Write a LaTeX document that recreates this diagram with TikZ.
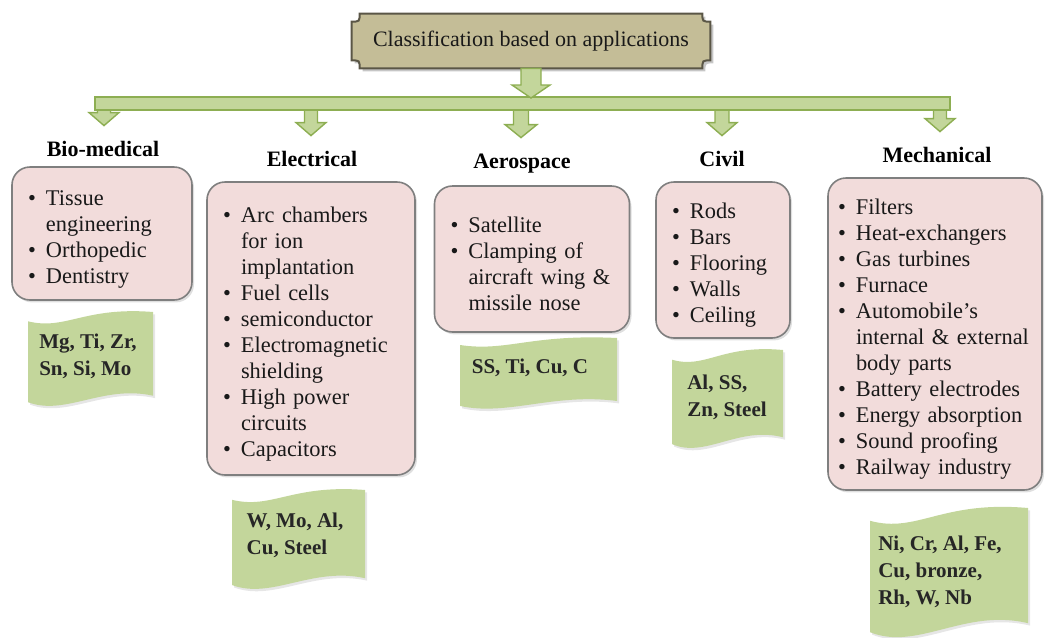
\documentclass[tikz,border=0pt]{standalone}
\usepackage{fontspec}
\setmainfont{Liberation Serif}
\usetikzlibrary{calc,shadows,backgrounds}
\setlength{\parskip}{0pt}

\definecolor{tagGreen}{HTML}{C3D69B}
\definecolor{barEdge}{HTML}{8DAE52}
\definecolor{boxPink}{HTML}{F2DCDB}
\definecolor{boxEdge}{HTML}{7F7F7F}
\definecolor{titleTan}{HTML}{C4BD97}
\definecolor{titleEdge}{HTML}{5A5646}

\newcommand{\bitem}[1]{\par\hangindent=9pt\hangafter=1\noindent\makebox[9pt][l]{\textbullet}#1}

\newcommand{\wavetag}[4]{%
  \path[tagshape] (#1,{#2+0.1*(#4-#2)}) .. controls ({#1+0.3*(#3-#1)},{#2+0.2*(#4-#2)}) and ({#1+0.45*(#3-#1)},{#2-0.06*(#4-#2)}) .. (#3,#2)
    -- (#3,{#2+0.9*(#4-#2)}) .. controls ({#1+0.6*(#3-#1)},{#2+0.78*(#4-#2)}) and ({#1+0.3*(#3-#1)},{#2+1.12*(#4-#2)}) .. (#1,{#2+0.97*(#4-#2)}) -- cycle;}

\newcommand{\fatarrow}[4]{%
  \coordinate (fa-a) at (#1);
  \coordinate (fa-b) at (#2);
  \filldraw[fat] ($(fa-a)+(-#3,0)$) -- ($(fa-a |- fa-b)+(-#3,-13)$) -- ($(fa-a |- fa-b)+(-#4,-13)$) -- (fa-a |- fa-b)
    -- ($(fa-a |- fa-b)+(#4,-13)$) -- ($(fa-a |- fa-b)+(#3,-13)$) -- ($(fa-a)+(#3,0)$) -- cycle;}

\begin{document}
\begin{tikzpicture}[x=0.5pt, y=-0.5pt,
        title/.style={minimum width=179pt, minimum height=27pt, font=\fontsize{11}{13}\selectfont, text=black!90},
        plaque/.style={fill=titleTan, draw=titleEdge, line width=1pt, drop shadow={opacity=0.45, shadow xshift=1.5pt, shadow yshift=-1.5pt}},
        head/.style={font=\fontsize{11}{13}\selectfont\bfseries, inner sep=2pt, text height=8pt, text depth=2pt},
        appbox/.style={rectangle, rounded corners=9pt, draw=boxEdge, line width=0.8pt, fill=boxPink, inner xsep=8pt, align=left,
            font=\fontsize{11.2}{13}\selectfont, text=black!90, drop shadow={opacity=0.25, shadow xshift=1pt, shadow yshift=-1.2pt}},
        tagshape/.style={fill=tagGreen, drop shadow={opacity=0.2, shadow xshift=1pt, shadow yshift=-1.2pt}},
        tagtext/.style={font=\fontsize{10.5}{13.5}\selectfont\bfseries, align=left, text=black!85, inner sep=0pt},
        fat/.style={fill=tagGreen, draw=barEdge, line width=0.7pt}
    ]
        \useasboundingbox (0,0) rectangle (1046,638);

        \node[title] (title) at (531,41) {Classification based on applications};
        \begin{pgfonlayer}{background}
        \path[plaque] ($(title.north west)+(8,0)$) -- ($(title.north east)+(-8,0)$) .. controls ($(title.north east)+(-8,8)$) .. ($(title.north east)+(0,8)$)
            -- ($(title.south east)+(0,-8)$) .. controls ($(title.south east)+(-8,-8)$) .. ($(title.south east)+(-8,0)$)
            -- ($(title.south west)+(8,0)$) .. controls ($(title.south west)+(8,-8)$) .. ($(title.south west)+(0,-8)$)
            -- ($(title.north west)+(0,8)$) .. controls ($(title.north west)+(8,8)$) .. ($(title.north west)+(8,0)$) -- cycle;
        \end{pgfonlayer}

        \node[head] (bioh) at (103,150) {Bio-medical};
        \node[head] (elech) at (312,160) {Electrical};
        \node[head] (aeroh) at (522,162) {Aerospace};
        \node[head] (civh) at (722,160) {Civil};
        \node[head] (mechh) at (937,156) {Mechanical};

        \node[appbox, text width=74pt, minimum height=66.5pt] (bio) at (102,233.5)
            {\bitem{Tissue\newline engineering}\bitem{Orthopedic}\bitem{Dentistry}\par};
        \node[appbox, text width=88pt, minimum height=146.5pt] (elec) at (311,328.5)
            {\bitem{Arc chambers\newline for ion\newline implantation}\bitem{Fuel cells}\bitem{semiconductor}\bitem{Electromagnetic\newline shielding}\bitem{High power\newline circuits}\bitem{Capacitors}\par};
        \node[appbox, text width=81.5pt, minimum height=73pt] (aero) at (532,259)
            {\bitem{Satellite}\bitem{Clamping of\newline aircraft wing \&\newline missile nose}\par};
        \node[appbox, text width=51pt, minimum height=78pt] (civ) at (723,260)
            {\bitem{Rods}\bitem{Bars}\bitem{Flooring}\bitem{Walls}\bitem{Ceiling}\par};
        \node[appbox, inner xsep=5pt, text width=97pt, minimum height=156pt] (mech) at (935,334)
            {\bitem{Filters}\bitem{Heat-exchangers}\bitem{Gas turbines}\bitem{Furnace}\bitem{Automobile’s\newline internal \& external\newline body parts}\bitem{Battery electrodes}\bitem{Energy absorption}\bitem{Sound proofing}\bitem{Railway industry}\par};

        \wavetag{28}{312}{153}{405}
        \node[tagtext] (biom) at (88,356) {Mg, Ti, Zr,\\Sn, Si, Mo};
        \wavetag{232}{490}{365}{588}
        \node[tagtext] (elecm) at (295,535) {W, Mo, Al,\\Cu, Steel};
        \wavetag{460}{338}{617}{408}
        \node[tagtext] (aerom) at (530,368) {SS, Ti, Cu, C};
        \wavetag{672}{350}{783}{447}
        \node[tagtext] (civm) at (727,397) {Al, SS,\\Zn, Steel};
        \wavetag{870}{508}{1028}{636}
        \node[tagtext] (mechm) at (940,572) {Ni, Cr, Al, Fe,\\Cu, bronze,\\Rh, W, Nb};

        \coordinate (d1) at (104,104);
        \coordinate (d2) at (311,104);
        \coordinate (d3) at (521,104);
        \coordinate (d4) at (722,104);
        \coordinate (d5) at (940,104);
        \fatarrow{d1}{$(bioh.north)+(0,-10)$}{6.5}{15}
        \fatarrow{d2}{$(elech.north)+(0,-10)$}{6.5}{15}
        \fatarrow{d3}{$(aeroh.north)+(0,-10)$}{7.5}{16}
        \fatarrow{d4}{$(civh.north)+(0,-10)$}{7}{15}
        \fatarrow{d5}{$(mechh.north)+(0,-10)$}{6.5}{15}

        \coordinate (bar-w) at (95,97);
        \coordinate (bar-e) at (950,110);
        \filldraw[fat] (bar-w) rectangle (bar-e);

        \fatarrow{title.south}{$(title.south |- bar-w)+(0,1)$}{10}{19}
    \end{tikzpicture}
\end{document}
